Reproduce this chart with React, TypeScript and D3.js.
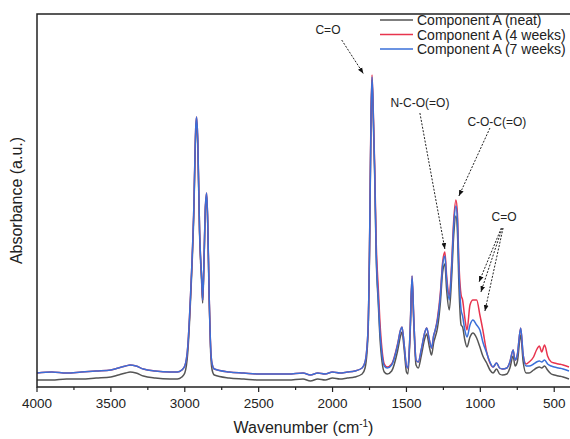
import React from 'react';
import * as d3 from 'd3';

// FTIR spectra, values (a.u.)
const wavenumbers = [
  4000, 3900, 3800, 3700, 3600, 3500, 3450, 3400, 3370, 3330, 3280, 3200, 3100, 3050, 3020, 3000,
  2980, 2960, 2940, 2925, 2920, 2912, 2900, 2885, 2879, 2870, 2860, 2852, 2845, 2835, 2825, 2815,
  2800, 2700, 2600, 2500, 2400, 2300, 2200, 2150, 2100, 2050, 2000, 1950, 1900, 1850, 1800, 1780,
  1760, 1750, 1740, 1733, 1725, 1715, 1705, 1690, 1680, 1665, 1650, 1630, 1600, 1560, 1540, 1530,
  1515, 1500, 1490, 1475, 1462, 1450, 1435, 1420, 1400, 1375, 1363, 1345, 1330, 1315, 1305, 1290,
  1270, 1255, 1240, 1228, 1210, 1195, 1180, 1165, 1155, 1145, 1130, 1120, 1105, 1090, 1070, 1050,
  1025, 1003, 983, 957, 935, 914, 890, 870, 850, 820, 800, 778, 765, 750, 727, 710,
  690, 670, 640, 620, 600, 585, 565, 545, 520, 500, 470, 440, 400,
];

const weeks7 = [
  0.028, 0.030, 0.028, 0.030, 0.032, 0.034, 0.038, 0.042, 0.044, 0.042, 0.036, 0.032, 0.030, 0.030, 0.034, 0.042,
  0.080, 0.190, 0.344, 0.524, 0.540, 0.494, 0.314, 0.214, 0.174, 0.254, 0.364, 0.388, 0.334, 0.184, 0.080, 0.046,
  0.036, 0.030, 0.028, 0.026, 0.026, 0.026, 0.028, 0.024, 0.028, 0.026, 0.030, 0.028, 0.030, 0.032, 0.038, 0.050,
  0.114, 0.274, 0.534, 0.620, 0.554, 0.434, 0.274, 0.174, 0.114, 0.064, 0.042, 0.038, 0.044, 0.084, 0.114, 0.120,
  0.084, 0.042, 0.038, 0.114, 0.222, 0.134, 0.054, 0.050, 0.074, 0.110, 0.118, 0.094, 0.078, 0.104, 0.114, 0.134,
  0.184, 0.244, 0.262, 0.214, 0.174, 0.234, 0.324, 0.362, 0.334, 0.234, 0.154, 0.142, 0.114, 0.100, 0.124, 0.134,
  0.124, 0.114, 0.090, 0.068, 0.050, 0.040, 0.048, 0.038, 0.036, 0.038, 0.050, 0.074, 0.054, 0.064, 0.118, 0.064,
  0.042, 0.042, 0.046, 0.050, 0.052, 0.050, 0.054, 0.046, 0.042, 0.040, 0.038, 0.036, 0.032,
];

const weeks4 = [
  0.028, 0.030, 0.028, 0.030, 0.032, 0.034, 0.038, 0.042, 0.044, 0.042, 0.036, 0.032, 0.030, 0.030, 0.034, 0.042,
  0.080, 0.190, 0.344, 0.524, 0.540, 0.494, 0.314, 0.214, 0.174, 0.254, 0.364, 0.388, 0.334, 0.184, 0.080, 0.046,
  0.036, 0.030, 0.028, 0.026, 0.026, 0.026, 0.028, 0.024, 0.028, 0.026, 0.030, 0.028, 0.030, 0.032, 0.038, 0.050,
  0.114, 0.274, 0.544, 0.624, 0.558, 0.444, 0.294, 0.194, 0.134, 0.074, 0.046, 0.040, 0.046, 0.086, 0.114, 0.120,
  0.084, 0.042, 0.038, 0.114, 0.222, 0.134, 0.054, 0.050, 0.074, 0.110, 0.118, 0.094, 0.078, 0.104, 0.114, 0.138,
  0.190, 0.250, 0.270, 0.222, 0.182, 0.242, 0.334, 0.374, 0.346, 0.250, 0.184, 0.174, 0.138, 0.114, 0.164, 0.174,
  0.174, 0.144, 0.114, 0.070, 0.048, 0.040, 0.048, 0.038, 0.036, 0.038, 0.050, 0.074, 0.054, 0.064, 0.118, 0.064,
  0.046, 0.050, 0.060, 0.074, 0.082, 0.070, 0.084, 0.062, 0.050, 0.048, 0.046, 0.044, 0.040,
];

const neat = [
  0.014, 0.014, 0.016, 0.016, 0.018, 0.020, 0.024, 0.028, 0.030, 0.028, 0.022, 0.018, 0.016, 0.016, 0.020, 0.028,
  0.068, 0.180, 0.334, 0.514, 0.530, 0.484, 0.308, 0.204, 0.168, 0.248, 0.358, 0.382, 0.328, 0.174, 0.070, 0.034,
  0.024, 0.018, 0.016, 0.014, 0.014, 0.014, 0.016, 0.012, 0.016, 0.014, 0.018, 0.016, 0.018, 0.020, 0.026, 0.038,
  0.104, 0.264, 0.524, 0.614, 0.544, 0.424, 0.264, 0.164, 0.102, 0.050, 0.030, 0.026, 0.032, 0.072, 0.102, 0.110,
  0.074, 0.030, 0.026, 0.106, 0.214, 0.124, 0.044, 0.038, 0.062, 0.098, 0.106, 0.080, 0.064, 0.090, 0.100, 0.118,
  0.170, 0.230, 0.246, 0.194, 0.154, 0.214, 0.304, 0.342, 0.310, 0.204, 0.124, 0.120, 0.094, 0.080, 0.100, 0.108,
  0.098, 0.080, 0.062, 0.048, 0.034, 0.028, 0.036, 0.026, 0.024, 0.026, 0.038, 0.062, 0.042, 0.050, 0.104, 0.050,
  0.028, 0.028, 0.034, 0.038, 0.040, 0.038, 0.042, 0.034, 0.026, 0.024, 0.022, 0.020, 0.016,
];

const seriesNames = ['Component A (neat)', 'Component A (4 weeks)', 'Component A (7 weeks)'];
const seriesColors = ['#555555', '#e8344e', '#3a6fd8'];
const seriesValues = [neat, weeks4, weeks7];

const xTicks = [4000, 3500, 3000, 2500, 2000, 1500, 1000, 500];
const xMinorTicks = [3750, 3250, 2750, 2250, 1750, 1250, 750];

// peak annotations: label position and arrow from/to, in data units
const annotations = [
  { label: 'C=O', at: [2031, 0.714], arrows: [[[1938, 0.694], [1792, 0.627]]] },
  { label: 'N-C-O(=O)', at: [1409, 0.568], arrows: [[[1409, 0.548], [1240, 0.276]]] },
  { label: 'C-O-C(=O)', at: [888, 0.53], arrows: [[[935, 0.518], [1145, 0.382]]] },
  {
    label: 'C=O',
    at: [840, 0.34],
    arrows: [
      [[858, 0.318], [1009, 0.21]],
      [[852, 0.318], [996, 0.19]],
      [[846, 0.318], [969, 0.152]],
    ],
  },
];

const W = 570;
const H = 439;
const margin = { top: 14, right: 1, bottom: 52, left: 37 };
const font = '"Liberation Sans", Arial, sans-serif';

export default function App() {
  const x = d3.scaleLinear().domain([4000, 400]).range([margin.left, W - margin.right]);
  const y = d3.scaleLinear().domain([0, 0.746]).range([H - margin.bottom, margin.top]);
  const bottom = H - margin.bottom;

  const line = d3
    .line<number>()
    .x((_, i) => x(wavenumbers[i]))
    .y((d) => y(d))
    .curve(d3.curveMonotoneX);

  return (
    <svg
      width={W}
      height={H}
      style={{ position: 'absolute', left: 0, top: 0, background: '#fff' }}
      fontFamily={font}
    >
      <defs>
        <marker id="arr" viewBox="0 0 10 10" refX="10" refY="5" markerWidth="6" markerHeight="6" orient="auto">
          <path d="M0,1 L10,5 L0,9 z" fill="#111" />
        </marker>
        <clipPath id="plot">
          <rect x={margin.left} y={margin.top} width={W - margin.left - margin.right + 2} height={bottom - margin.top} />
        </clipPath>
      </defs>

      <g clipPath="url(#plot)">
        {seriesValues.map((vals, i) => (
          <path key={i} d={line(vals) || ''} fill="none" stroke={seriesColors[i]} strokeWidth={1.5} />
        ))}
      </g>

      {/* frame */}
      <path
        d={`M${W + 2},${margin.top}H${margin.left}V${bottom}H${W + 2}`}
        fill="none"
        stroke="#222"
        strokeWidth={1.5}
      />

      {/* x ticks */}
      {xTicks.map((t) => (
        <g key={t}>
          <line x1={x(t)} x2={x(t)} y1={bottom} y2={bottom + 5} stroke="#222" strokeWidth={1.2} />
          <text x={x(t)} y={bottom + 21} textAnchor="middle" fontSize={13.5} fill="#222">
            {t}
          </text>
        </g>
      ))}
      {xMinorTicks.map((t) => (
        <line key={t} x1={x(t)} x2={x(t)} y1={bottom} y2={bottom + 3} stroke="#222" strokeWidth={1.2} />
      ))}

      {/* axis titles */}
      <text x={(margin.left + W) / 2} y={H - 6} textAnchor="middle" fontSize={16} fill="#222">
        Wavenumber (cm<tspan dy={-6} fontSize={10}>-1</tspan>
        <tspan dy={6}>)</tspan>
      </text>
      <text
        transform={`translate(22,${(margin.top + bottom) / 2}) rotate(-90)`}
        textAnchor="middle"
        fontSize={16}
        fill="#222"
      >
        Absorbance (a.u.)
      </text>

      {/* legend */}
      {seriesNames.map((name, i) => (
        <g key={name} transform={`translate(380,${20 + i * 14.5})`}>
          <line x1={0} x2={33} y1={0} y2={0} stroke={seriesColors[i]} strokeWidth={1.3} />
          <text x={37} y={5} fontSize={14} fill="#222">
            {name}
          </text>
        </g>
      ))}

      {/* annotations */}
      {annotations.map((a, i) => (
        <g key={i}>
          <text x={x(a.at[0])} y={y(a.at[1]) + 4} textAnchor="middle" fontSize={12} fill="#222">
            {a.label}
          </text>
          {a.arrows.map((ar, j) => (
            <line
              key={j}
              x1={x(ar[0][0])}
              y1={y(ar[0][1])}
              x2={x(ar[1][0])}
              y2={y(ar[1][1])}
              stroke="#222"
              strokeWidth={1}
              strokeDasharray="2,1.5"
              markerEnd="url(#arr)"
            />
          ))}
        </g>
      ))}
    </svg>
  );
}
